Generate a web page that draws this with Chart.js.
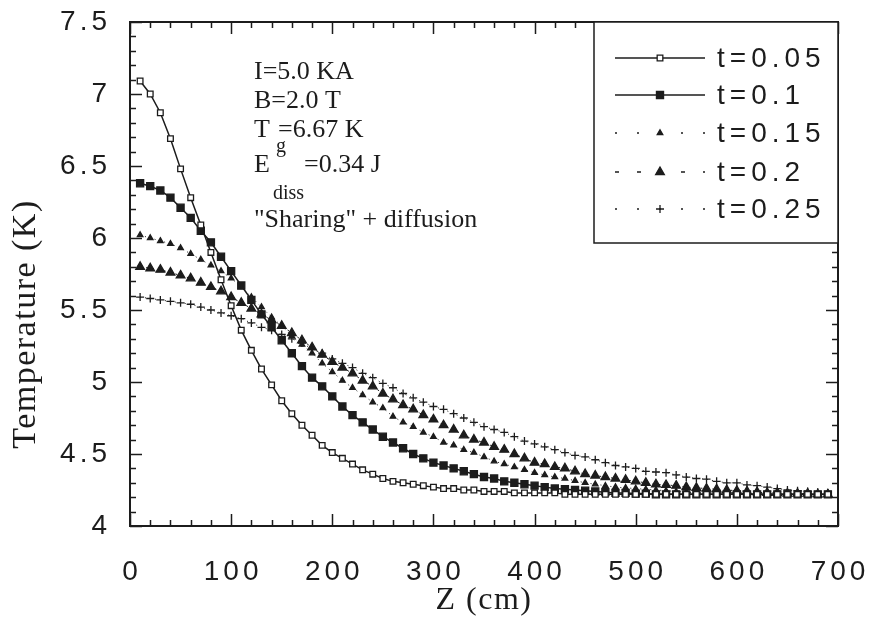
<!DOCTYPE html>
<html>
<head>
<meta charset="utf-8">
<script src="https://cdn.jsdelivr.net/npm/chart.js@4.4.1/dist/chart.umd.min.js"></script>
<style>
  html, body { margin: 0; padding: 0; background: #fff; }
  #wrap { width: 870px; height: 620px; }
</style>
</head>
<body>
<div id="wrap"><canvas id="chart" width="870" height="620"></canvas></div>
<script>
// position along the conductor (cm)
const zValues = [
  10, 20, 30, 40, 50, 60, 70, 80, 90, 100,
  110, 120, 130, 140, 150, 160, 170, 180, 190, 200,
  210, 220, 230, 240, 250, 260, 270, 280, 290, 300,
  310, 320, 330, 340, 350, 360, 370, 380, 390, 400,
  410, 420, 430, 440, 450, 460, 470, 480, 490, 500,
  510, 520, 530, 540, 550, 560, 570, 580, 590, 600,
  610, 620, 630, 640, 650, 660, 670, 680, 690
];

// temperature profiles (K) at each time step
const temp005 = [
  7.09, 7.00, 6.87, 6.69, 6.48, 6.28, 6.09, 5.90, 5.71, 5.53,
  5.36, 5.22, 5.09, 4.98, 4.87, 4.78, 4.70, 4.63, 4.56, 4.51,
  4.47, 4.43, 4.39, 4.36, 4.33, 4.31, 4.30, 4.29, 4.28, 4.27,
  4.26, 4.26, 4.25, 4.25, 4.24, 4.24, 4.24, 4.23, 4.23, 4.23,
  4.23, 4.23, 4.22, 4.22, 4.22, 4.22, 4.22, 4.22, 4.22, 4.22,
  4.22, 4.22, 4.22, 4.22, 4.22, 4.22, 4.22, 4.22, 4.22, 4.22,
  4.22, 4.22, 4.22, 4.22, 4.22, 4.22, 4.22, 4.22, 4.22
];
const temp010 = [
  6.38, 6.36, 6.33, 6.28, 6.21, 6.14, 6.05, 5.97, 5.87, 5.77,
  5.67, 5.57, 5.47, 5.38, 5.29, 5.20, 5.11, 5.03, 4.97, 4.90,
  4.83, 4.77, 4.72, 4.67, 4.62, 4.58, 4.54, 4.50, 4.47, 4.44,
  4.42, 4.40, 4.38, 4.36, 4.34, 4.33, 4.31, 4.30, 4.29, 4.28,
  4.27, 4.26, 4.255, 4.25, 4.245, 4.24, 4.235, 4.23, 4.23, 4.225,
  4.225, 4.22, 4.22, 4.22, 4.22, 4.22, 4.22, 4.22, 4.22, 4.22,
  4.22, 4.22, 4.22, 4.22, 4.22, 4.22, 4.22, 4.22, 4.22
];
const temp015 = [
  6.02, 6.00, 5.98, 5.96, 5.93, 5.89, 5.85, 5.81, 5.77, 5.72,
  5.66, 5.59, 5.52, 5.45, 5.39, 5.32, 5.26, 5.20, 5.13, 5.07,
  5.01, 4.96, 4.91, 4.86, 4.82, 4.76, 4.72, 4.69, 4.65, 4.62,
  4.58, 4.56, 4.53, 4.51, 4.48, 4.45, 4.43, 4.41, 4.39, 4.37,
  4.355, 4.34, 4.33, 4.315, 4.30, 4.29, 4.28, 4.27, 4.265, 4.26,
  4.255, 4.25, 4.245, 4.24, 4.235, 4.23, 4.23, 4.23, 4.225, 4.225,
  4.225, 4.22, 4.22, 4.22, 4.22, 4.22, 4.22, 4.22, 4.22
];
const temp020 = [
  5.80, 5.79, 5.78, 5.76, 5.74, 5.72, 5.69, 5.66, 5.63, 5.59,
  5.55, 5.51, 5.47, 5.43, 5.39, 5.34, 5.29, 5.24, 5.19, 5.14,
  5.10, 5.06, 5.01, 4.97, 4.92, 4.88, 4.84, 4.81, 4.77, 4.74,
  4.70, 4.67, 4.63, 4.60, 4.58, 4.55, 4.53, 4.50, 4.47, 4.44,
  4.43, 4.41, 4.40, 4.38, 4.36, 4.35, 4.34, 4.33, 4.32, 4.31,
  4.30, 4.29, 4.285, 4.28, 4.27, 4.265, 4.26, 4.255, 4.25, 4.245,
  4.24, 4.235, 4.23, 4.23, 4.225, 4.225, 4.225, 4.22, 4.22
];
const temp025 = [
  5.59, 5.58, 5.57, 5.56, 5.55, 5.54, 5.52, 5.50, 5.48, 5.46,
  5.44, 5.41, 5.38, 5.36, 5.33, 5.30, 5.27, 5.23, 5.20, 5.16,
  5.13, 5.10, 5.06, 5.03, 4.99, 4.96, 4.92, 4.89, 4.86, 4.83,
  4.81, 4.78, 4.75, 4.72, 4.69, 4.67, 4.65, 4.62, 4.59, 4.57,
  4.55, 4.53, 4.51, 4.49, 4.48, 4.46, 4.44, 4.42, 4.41, 4.40,
  4.38, 4.375, 4.37, 4.355, 4.34, 4.33, 4.325, 4.31, 4.30, 4.30,
  4.285, 4.28, 4.27, 4.26, 4.25, 4.245, 4.24, 4.235, 4.23
];

const seriesLabels = ['t=0.05', 't=0.1', 't=0.15', 't=0.2', 't=0.25'];
const seriesValues = [temp005, temp010, temp015, temp020, temp025];

const noteLines = ['I=5.0 KA', 'B=2.0 T', 'T', 'g', '=6.67 K', 'E', 'diss', '=0.34 J', '"Sharing" + diffusion'];

const INK = '#1c1c1c';
const SERIF = '"Liberation Serif", "Times New Roman", serif';
const SANS = '"Liberation Sans", Arial, sans-serif';

const seriesStyles = [
  { pointStyle: 'rect', radius: 4, fill: '#fff', width: 1.5, dash: [], legendDash: [] },
  { pointStyle: 'rect', radius: 5, fill: INK, width: 1.5, dash: [], legendDash: [] },
  { pointStyle: 'triangle', radius: 3.2, fill: INK, width: 1, dash: [1, 4], legendDash: [2, 20] },
  { pointStyle: 'triangle', radius: 5, fill: INK, width: 1, dash: [2, 4], legendDash: [4, 18] },
  { pointStyle: 'cross', radius: 4, fill: INK, width: 1, dash: [1, 4], legendDash: [2, 20] }
];

function makeDataset(label, values, style) {
  return {
    label: label,
    data: values.map((t, i) => ({ x: zValues[i], y: t })),
    borderColor: INK,
    borderWidth: style.width,
    borderDash: style.dash,
    pointStyle: style.pointStyle,
    pointRadius: style.radius,
    pointBackgroundColor: style.fill,
    pointBorderColor: INK,
    pointBorderWidth: 1.3,
    tension: 0,
    fill: false
  };
}

function withSpacing(fn, spacing) {
  return function (arg) {
    this.ctx.save();
    this.ctx.letterSpacing = spacing;
    fn.call(this, arg);
    this.ctx.restore();
  };
}

// tick labels and titles in the old plot are drawn with wide letter spacing
const spacedText = {
  id: 'spacedText',
  beforeDraw(chart) {
    Object.values(chart.scales).forEach(scale => {
      if (scale._spaced) return;
      scale.drawLabels = withSpacing(scale.drawLabels, '4px');
      scale.drawTitle = withSpacing(scale.drawTitle, '1.5px');
      scale._spaced = true;
    });
  }
};

// boxed frame with inward major/minor ticks on all four sides
const frameTicks = {
  id: 'frameTicks',
  afterDraw(chart) {
    const { ctx, chartArea: a, scales } = chart;
    const x = scales.x, y = scales.y;
    ctx.save();
    ctx.strokeStyle = INK;
    ctx.lineWidth = 1.5;
    for (let v = 0; v <= 700; v += 20) {
      const px = Math.round(x.getPixelForValue(v)) + 0.5;
      const len = v % 100 === 0 ? 12 : 6;
      ctx.beginPath();
      ctx.moveTo(px, a.bottom); ctx.lineTo(px, a.bottom - len);
      ctx.moveTo(px, a.top); ctx.lineTo(px, a.top + len);
      ctx.stroke();
    }
    for (let k = 40; k <= 75; k++) {
      const py = Math.round(y.getPixelForValue(k / 10)) + 0.5;
      const len = k % 5 === 0 ? 12 : 6;
      ctx.beginPath();
      ctx.moveTo(a.left, py); ctx.lineTo(a.left + len, py);
      ctx.moveTo(a.right, py); ctx.lineTo(a.right - len, py);
      ctx.stroke();
    }
    ctx.lineWidth = 2;
    ctx.strokeRect(a.left, a.top, a.right - a.left, a.bottom - a.top);
    ctx.restore();
  }
};

// legend box in the upper right corner of the plot
const boxLegend = {
  id: 'boxLegend',
  afterDraw(chart) {
    const { ctx, chartArea: a } = chart;
    const left = a.right - 244, top = a.top, h = 221;
    ctx.save();
    ctx.strokeStyle = INK;
    ctx.lineWidth = 1.5;
    ctx.fillStyle = '#fff';
    ctx.fillRect(left, top, a.right - left, h);
    ctx.strokeRect(left, top, a.right - left, h);
    const rows = [36, 73, 111, 150, 187];
    chart.data.datasets.forEach((ds, i) => {
      const st = seriesStyles[i];
      const yy = top + rows[i];
      const x0 = left + 21, x1 = left + 111, xm = (x0 + x1) / 2;
      ctx.setLineDash(st.legendDash);
      ctx.lineWidth = 1.5;
      ctx.beginPath(); ctx.moveTo(x0, yy); ctx.lineTo(x1, yy); ctx.stroke();
      ctx.setLineDash([]);
      ctx.fillStyle = st.fill;
      ctx.lineWidth = 1.3;
      if (Chart.helpers && Chart.helpers.drawPoint) {
        Chart.helpers.drawPoint(ctx, { pointStyle: st.pointStyle, radius: st.radius, borderWidth: 1.3, rotation: 0 }, xm, yy);
      }
      ctx.fillStyle = INK;
      ctx.font = '28px ' + SANS;
      ctx.letterSpacing = '5px';
      ctx.textBaseline = 'middle';
      ctx.fillText(ds.label, left + 123, yy + 1);
      ctx.letterSpacing = '0px';
    });
    ctx.restore();
  }
};

// run parameters written inside the plot
const runNote = {
  id: 'runNote',
  afterDraw(chart) {
    const ctx = chart.ctx;
    const big = '26px ' + SERIF, small = '20px ' + SERIF;
    ctx.save();
    ctx.fillStyle = INK;
    ctx.textBaseline = 'alphabetic';
    ctx.font = big;
    ctx.fillText(noteLines[0], 254, 79);
    ctx.fillText(noteLines[1], 254, 108);
    ctx.fillText(noteLines[2], 254, 137);
    ctx.fillText(noteLines[4], 278, 137);
    ctx.fillText(noteLines[5], 254, 172);
    ctx.fillText(noteLines[7], 304, 172);
    ctx.fillText(noteLines[8], 254, 227);
    ctx.font = small;
    ctx.fillText(noteLines[3], 276, 152);
    ctx.fillText(noteLines[6], 273, 199);
    ctx.restore();
  }
};

new Chart(document.getElementById('chart'), {
  type: 'line',
  data: {
    datasets: seriesLabels.map((label, i) => makeDataset(label, seriesValues[i], seriesStyles[i]))
  },
  options: {
    responsive: false,
    animation: false,
    layout: { padding: { top: 22, right: 32, left: 0, bottom: 0 } },
    plugins: {
      legend: { display: false },
      tooltip: { enabled: false }
    },
    scales: {
      x: {
        type: 'linear',
        min: 0,
        max: 700,
        grid: { display: false, drawTicks: false },
        border: { display: false },
        afterFit: s => { s.height = 94; s.paddingLeft = 0; s.paddingRight = 0; },
        ticks: {
          stepSize: 100,
          padding: 29,
          labelOffset: 2,
          color: INK,
          font: { family: SANS, size: 28 }
        },
        title: {
          display: true,
          text: 'Z (cm)',
          color: INK,
          padding: { top: 0, bottom: 0 },
          font: { family: SERIF, size: 32 }
        }
      },
      y: {
        min: 4,
        max: 7.5,
        grid: { display: false, drawTicks: false },
        border: { display: false },
        afterFit: s => { s.width = 130; s.paddingTop = 0; s.paddingBottom = 0; },
        ticks: {
          stepSize: 0.5,
          padding: 19,
          color: INK,
          font: { family: SANS, size: 28 },
          callback: v => String(v)
        },
        title: {
          display: true,
          // trailing spaces push the rotated title below the axis middle
          text: 'Temperature (K)' + '\u00a0'.repeat(10),
          color: INK,
          padding: { top: 6, bottom: 6 },
          font: { family: SERIF, size: 34 }
        }
      }
    }
  },
  plugins: [spacedText, frameTicks, boxLegend, runNote]
});
</script>
</body>
</html>
